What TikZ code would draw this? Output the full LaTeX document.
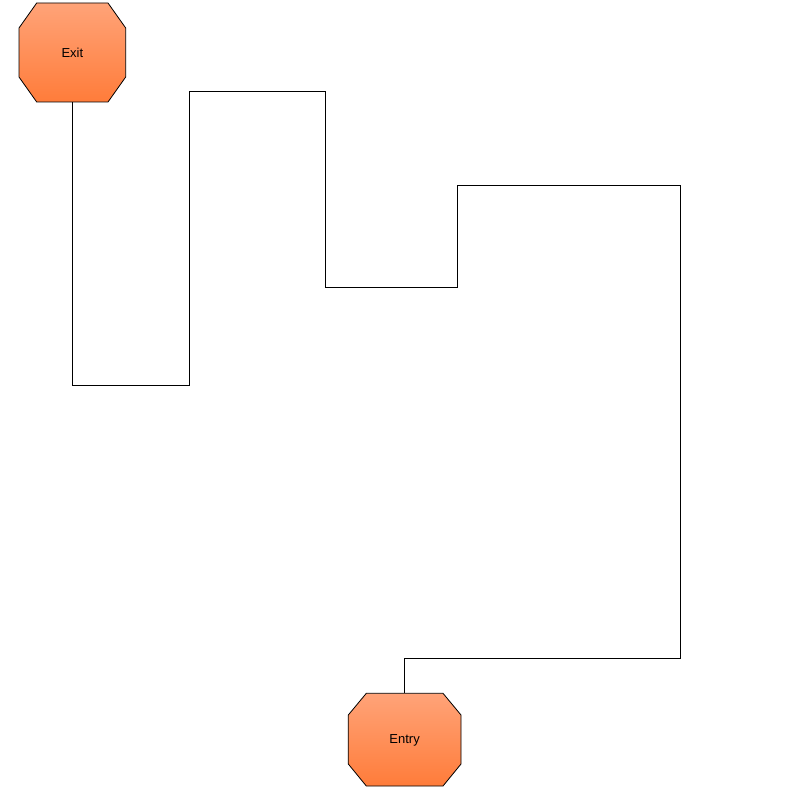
\documentclass[tikz,border=0pt]{standalone}
\usepackage{fontspec}
\setmainfont{Liberation Sans}
\definecolor{octtop}{RGB}{255,163,120}
\definecolor{octbot}{RGB}{255,124,58}
\begin{document}
\begin{tikzpicture}[x=1pt,y=-1pt,
  term/.style={draw=none,inner sep=0pt,font=\fontsize{13}{15}\selectfont},
  conn/.style={draw=black,line width=0.9pt}]
\useasboundingbox[fill=white] (0,0) rectangle (794,794);
% Exit
\node[term,minimum width=106.7pt,minimum height=99pt] (exit) at (72.35,52.5) {};
\shade[top color=octtop,bottom color=octbot,draw=black,line width=0.8pt]
  (36.7,3) -- (108,3) -- (125.7,28) -- (125.7,77) -- (108,102) -- (36.7,102) -- (19,77) -- (19,28) -- cycle;
\node[term] at (exit.center) {Exit};
% Entry
\node[term,minimum width=112.7pt,minimum height=92.7pt] (entry) at (404.65,739.65) {};
\shade[top color=octtop,bottom color=octbot,draw=black,line width=0.8pt]
  (366.3,693.3) -- (443,693.3) -- (461,715) -- (461,764) -- (443,786) -- (366.3,786) -- (348.3,764) -- (348.3,715) -- cycle;
\node[term] at ([yshift=-1pt]entry.center) {Entry};
% connector
\coordinate (c1) at (72.35,385);
\draw[conn] (exit.south) -- (c1) -- (189,385) -- (189,91) -- (325,91) -- (325,287)
  -- (457,287) -- (457,185) -- (680,185) -- (680,658) -- (404.65,658) -- (entry.north);
\end{tikzpicture}
\end{document}
